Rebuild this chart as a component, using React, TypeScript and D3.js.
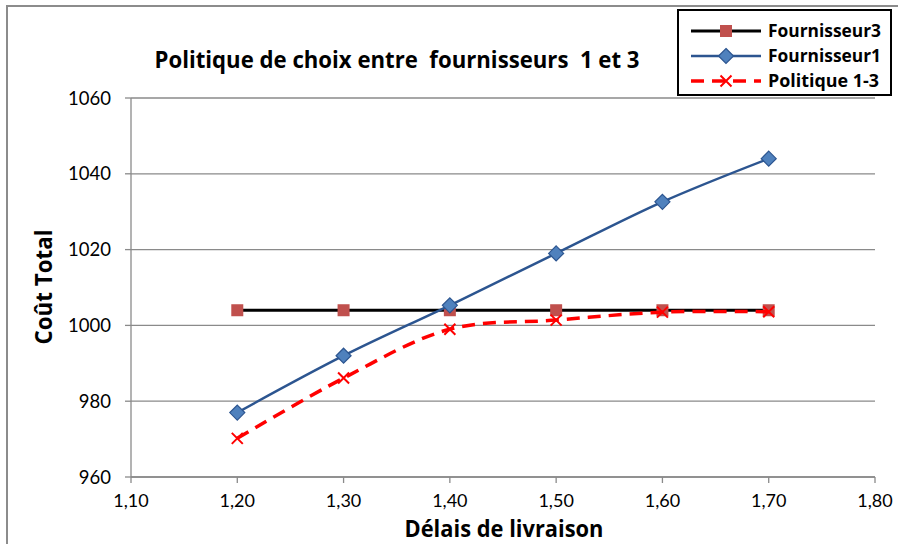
import React from "react";
import * as d3 from "d3";

const delais = [1.2, 1.3, 1.4, 1.5, 1.6, 1.7];
const fournisseur3 = [1004, 1004, 1004, 1004, 1004, 1004];
const fournisseur1 = [977, 992, 1005.3, 1019, 1032.6, 1044];
const politique13 = [970.2, 986.1, 999, 1001.4, 1003.5, 1003.6];
const xTicks = [1.1, 1.2, 1.3, 1.4, 1.5, 1.6, 1.7, 1.8];
const yTicks = [960, 980, 1000, 1020, 1040, 1060];
const seriesNames = ["Fournisseur3", "Fournisseur1", "Politique 1-3"];

const FONT = "Lato, 'Open Sans', sans-serif";
const BOLD = "'Open Sans', Lato, sans-serif";

export default function App() {
  const x = d3.scaleLinear().domain([1.1, 1.8]).range([131, 875]);
  const y = d3.scaleLinear().domain([960, 1060]).range([477, 98]);
  const smooth = d3
    .line<[number, number]>()
    .x((d) => x(d[0]))
    .y((d) => y(d[1]))
    .curve(d3.curveCatmullRom.alpha(0.5));
  const pts = (vals: number[]) => delais.map((d, i) => [d, vals[i]] as [number, number]);
  const fmt = (v: number) => v.toFixed(2).replace(".", ",");

  const square = (cx: number, cy: number, k: string | number) => (
    <rect key={k} x={cx - 6} y={cy - 6} width={12} height={12} fill="#C0504D" />
  );
  const diamond = (cx: number, cy: number, k: string | number) => (
    <path
      key={k}
      d={`M${cx},${cy - 7.5}L${cx + 7.5},${cy}L${cx},${cy + 7.5}L${cx - 7.5},${cy}Z`}
      fill="#4F81BD"
      stroke="#2C5590"
      strokeWidth={1.2}
    />
  );
  const cross = (cx: number, cy: number, k: string | number) => (
    <path
      key={k}
      d={`M${cx - 5.5},${cy - 5.5}L${cx + 5.5},${cy + 5.5}M${cx - 5.5},${cy + 5.5}L${cx + 5.5},${cy - 5.5}`}
      stroke="#FF0000"
      strokeWidth={2}
    />
  );

  const legendRows = [
    { name: seriesNames[0], y: 31, w: 113 },
    { name: seriesNames[1], y: 56, w: 113 },
    { name: seriesNames[2], y: 81, w: 111 },
  ];

  return (
    <svg
      width={898}
      height={544}
      style={{ position: "absolute", left: 0, top: 0, background: "#fff" }}
      fontFamily={FONT}
    >
      <rect x={0} y={0} width={898} height={544} fill="#fff" />
      {/* outer chart frame */}
      <rect x={7} y={6} width={1000} height={600} fill="#fff" stroke="#8c8c8c" strokeWidth={2} />

      {/* gridlines */}
      {yTicks.map((t) => (
        <line key={"g" + t} x1={x(1.1)} x2={x(1.8)} y1={y(t)} y2={y(t)} stroke="#8a8a8a" strokeWidth={1.3} />
      ))}
      {/* axes */}
      <line x1={x(1.1)} x2={x(1.1)} y1={y(1060)} y2={y(960)} stroke="#8a8a8a" strokeWidth={1.3} />
      <line x1={x(1.1)} x2={x(1.8)} y1={y(960)} y2={y(960)} stroke="#8a8a8a" strokeWidth={1.3} />
      {yTicks.map((t) => (
        <g key={"yt" + t}>
          <line x1={x(1.1) - 6} x2={x(1.1)} y1={y(t)} y2={y(t)} stroke="#8a8a8a" strokeWidth={1.3} />
          <text x={111} y={y(t) + 6.5} textAnchor="end" fontSize={18.5} fill="#000">
            {t}
          </text>
        </g>
      ))}
      {xTicks.map((t) => (
        <g key={"xt" + t}>
          <line x1={x(t)} x2={x(t)} y1={y(960)} y2={y(960) + 6} stroke="#8a8a8a" strokeWidth={1.3} />
          <text x={x(t)} y={507} textAnchor="middle" fontSize={18} fill="#000">
            {fmt(t)}
          </text>
        </g>
      ))}

      {/* axis titles */}
      <text x={504} y={537} textAnchor="middle" fontFamily={BOLD} fontSize={23} fontWeight="bold" textLength={199} lengthAdjust="spacingAndGlyphs">
        Délais de livraison
      </text>
      <text
        transform="translate(52,287) rotate(-90)"
        textAnchor="middle"
        fontFamily={BOLD}
        fontSize={23}
        fontWeight="bold"
        textLength={115}
        lengthAdjust="spacingAndGlyphs"
      >
        Coût Total
      </text>

      {/* title */}
      <text
        x={397}
        y={68}
        textAnchor="middle"
        fontFamily={BOLD}
        fontSize={22.5}
        fontWeight="bold"
        textLength={485}
        lengthAdjust="spacingAndGlyphs"
        style={{ whiteSpace: "pre" }}
      >
        {"Politique de choix entre  fournisseurs  1 et 3"}
      </text>

      {/* series */}
      <path d={smooth(pts(fournisseur3)) || ""} fill="none" stroke="#000" strokeWidth={3} />
      {pts(fournisseur3).map((p, i) => square(x(p[0]), y(p[1]), "s" + i))}
      <path d={smooth(pts(fournisseur1)) || ""} fill="none" stroke="#2C5590" strokeWidth={2.5} />
      {pts(fournisseur1).map((p, i) => diamond(x(p[0]), y(p[1]), "d" + i))}
      <path
        d={smooth(pts(politique13)) || ""}
        fill="none"
        stroke="#FF0000"
        strokeWidth={3.5}
        strokeDasharray="13,8"
      />
      {pts(politique13).map((p, i) => cross(x(p[0]), y(p[1]), "c" + i))}

      {/* legend */}
      <rect x={678} y={10} width={213} height={85} fill="#fff" stroke="#000" strokeWidth={2} />
      {legendRows.map((r, i) => (
        <g key={"l" + i}>
          {i === 0 && (
            <>
              <line x1={691} x2={761} y1={r.y} y2={r.y} stroke="#000" strokeWidth={3} />
              {square(726, r.y, "ls")}
            </>
          )}
          {i === 1 && (
            <>
              <line x1={691} x2={761} y1={r.y} y2={r.y} stroke="#2C5590" strokeWidth={2.5} />
              {diamond(726, r.y, "ld")}
            </>
          )}
          {i === 2 && (
            <>
              <line x1={691} x2={761} y1={r.y} y2={r.y} stroke="#FF0000" strokeWidth={3.5} strokeDasharray="13,8" />
              {cross(726, r.y, "lc")}
            </>
          )}
          <text x={768} y={r.y + 6} fontFamily={BOLD} fontSize={17} fontWeight="bold" textLength={r.w} lengthAdjust="spacingAndGlyphs">
            {r.name}
          </text>
        </g>
      ))}
    </svg>
  );
}
